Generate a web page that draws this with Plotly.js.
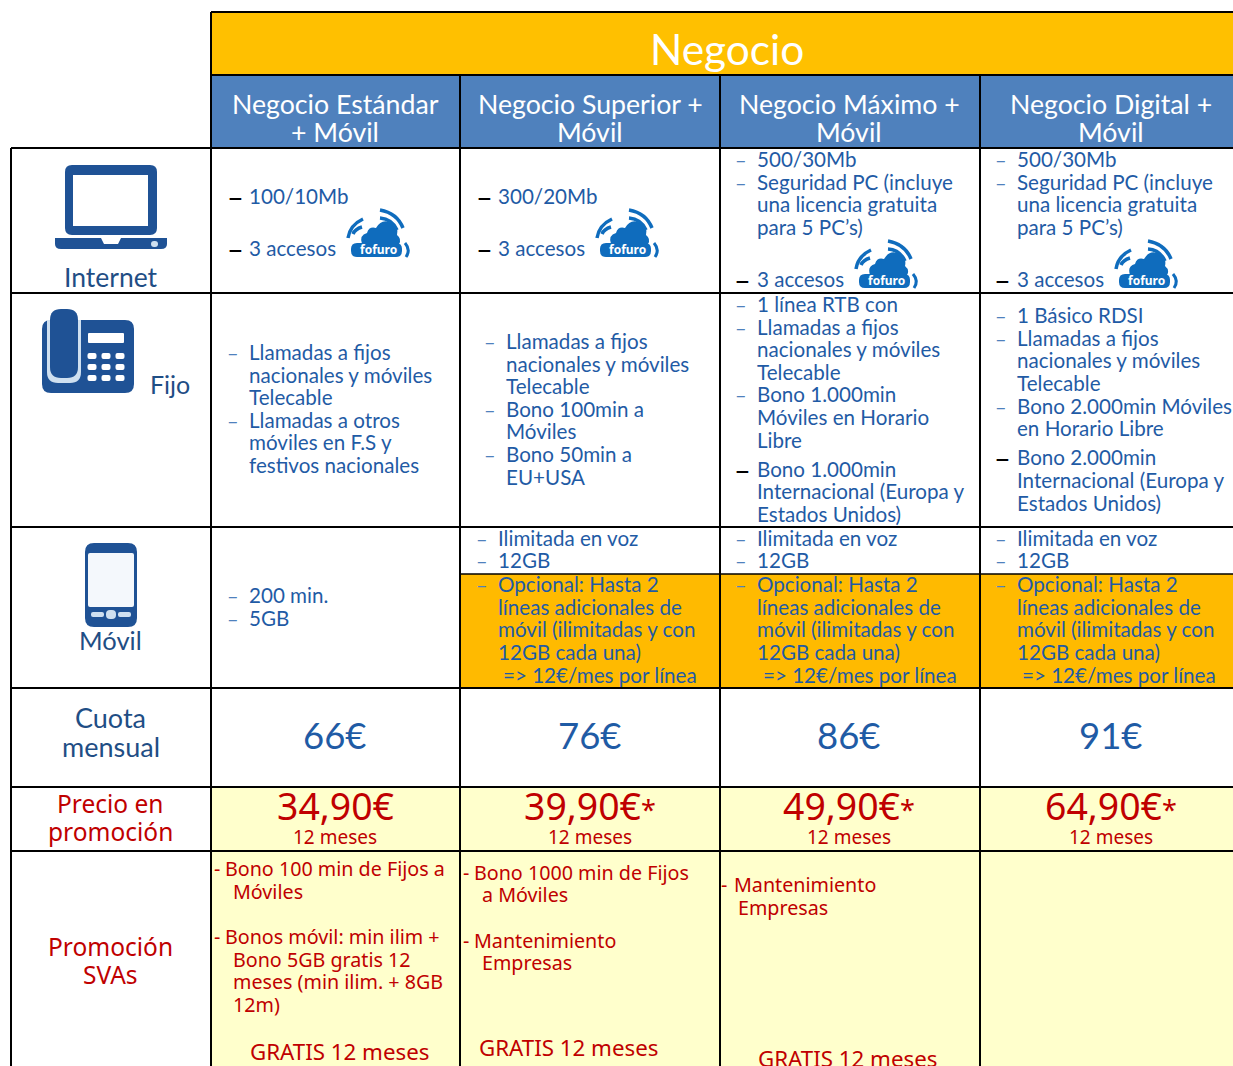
<!DOCTYPE html>
<html><head><meta charset="utf-8">
<script src="https://cdn.plot.ly/plotly-3.0.1.min.js"></script>
<style>html,body{margin:0;padding:0;background:#fff}#c{width:1233px;height:1066px}</style></head>
<body><div id="c"></div>
<script>
// ---- table content ----
const title = "Negocio";
const planHead1 = ["Negocio Estándar","Negocio Superior +","Negocio Máximo +","Negocio Digital +"];
const planHead2 = ["+ Móvil","Móvil","Móvil","Móvil"];
const rowInternet = "Internet", rowFijo = "Fijo", rowMovil = "Móvil";
const rowCuota = ["Cuota","mensual"], rowPrecio = ["Precio en","promoción"], rowPromo = ["Promoción","SVAs"];

const inetA = ["100/10Mb","3 accesos"];
const inetB = ["300/20Mb","3 accesos"];
const inetC = ["500/30Mb","Seguridad PC (incluye","una licencia gratuita","para 5 PC’s)","3 accesos"];
const fijoA = ["Llamadas a fijos","nacionales y móviles","Telecable","Llamadas a otros","móviles en F.S y","festivos nacionales"];
const fijoB = ["Llamadas a fijos","nacionales y móviles","Telecable","Bono 100min a","Móviles","Bono 50min a","EU+USA"];
const fijoC = ["1 línea RTB con","Llamadas a fijos","nacionales y móviles","Telecable","Bono 1.000min","Móviles en Horario","Libre","Bono 1.000min","Internacional (Europa y","Estados Unidos)"];
const fijoD = ["1 Básico RDSI","Llamadas a fijos","nacionales y móviles","Telecable","Bono 2.000min Móviles","en Horario Libre","Bono 2.000min","Internacional (Europa y","Estados Unidos)"];
const movilA = ["200 min.","5GB"];
const movilB = ["Ilimitada en voz","12GB","Opcional: Hasta 2","líneas adicionales de","móvil (ilimitadas y con","12GB cada una)"];
const movilExtra = "=> 12€/mes por línea";
const cuota = ["66€","76€","86€","91€"];
const precio = ["34,90€","39,90€*","49,90€*","64,90€*"];
const meses = "12 meses";
const promoA = ["Bono 100 min de Fijos a","Móviles","Bonos móvil: min ilim +","Bono 5GB gratis 12","meses (min ilim. + 8GB","12m)"];
const promoB = ["Bono 1000 min de Fijos","a Móviles","Mantenimiento","Empresas"];
const promoC = ["Mantenimiento","Empresas"];
const gratis = "GRATIS 12 meses";

// ---- styling / layout ----
const FONT = "Lato", FONT2 = "Noto Sans";
const GOLD="#FFC000", BLUE="#4F81BD", ORANGE="#FFBA00", PALE="#FFFFCC", BODY="#1F5BA5", NAVY="#1F4E85", RED="#C00000", ICON="#1F5295", CLOUD="#0F6CBD";
const colX=[211,460,720,980,1240], colC=[335,590,849,1111];
const shapes=[], ann=[];
function rect(x0,y0,x1,y1,fill,layer="below"){shapes.push({type:"rect",xref:"x",yref:"y",x0,y0,x1,y1,fillcolor:fill,line:{width:0},layer});}
function line(x0,y0,x1,y1,w=2,c="#000"){shapes.push({type:"line",xref:"x",yref:"y",x0,y0,x1,y1,line:{color:c,width:w}});}
function path(d,fill){shapes.push({type:"path",xref:"x",yref:"y",path:d,fillcolor:fill,line:{width:0}});}
function stroke(d,c,w){shapes.push({type:"path",xref:"x",yref:"y",path:d,fillcolor:"rgba(0,0,0,0)",line:{color:c,width:w}});}
function rr(x0,y0,x1,y1,r){return `M${x0+r},${y0}L${x1-r},${y0}Q${x1},${y0} ${x1},${y0+r}L${x1},${y1-r}Q${x1},${y1} ${x1-r},${y1}L${x0+r},${y1}Q${x0},${y1} ${x0},${y1-r}L${x0},${y0+r}Q${x0},${y0} ${x0+r},${y0}Z`;}
const YO=-0.8;
function txt(text,x,y,size,color,anchor="left",family=FONT){ann.push({text,x,y:y+YO,xref:"x",yref:"y",showarrow:false,xanchor:anchor,yanchor:"middle",borderpad:0,borderwidth:0,font:{family,size,color}});}
function dash(x,y,black){
  if(black) txt("–",x-2.5,y,29,"#000");
  else txt("–",x-1.5,y,20,"#4F81BD");
}
function put(lines,x,ys,size=20.6,color=BODY,family=FONT){lines.forEach((t,i)=>txt(t,x,ys[i],size,color,"left",family));}

// fills
rect(211,12,1240,75,GOLD);
rect(211,75,1240,148,BLUE);
[1,2,3].forEach(i=>rect(colX[i],574,colX[i+1],688,ORANGE));
rect(211,787,1240,1066,PALE);

// grid
line(211,12,1240,12);line(211,75,1240,75);
[148,293,527,688,787,851].forEach(y=>line(11,y,1240,y));
line(11,148,11,1066);line(211,12,211,1066);
[460,720,980].forEach(x=>line(x,75,x,1066));
line(460,574,1240,574,1.5);

// header
txt(title,727,49,42.4,"#fff","center");
colC.forEach((c,i)=>{txt(planHead1[i],c,105,26.7,"#fff","center");txt(planHead2[i],c,133,26.7,"#fff","center");});

// left column
txt(rowInternet,110.5,278,26.5,NAVY,"center");
txt(rowFijo,170,385,25,NAVY,"center");
txt(rowMovil,110.5,641,25.5,NAVY,"center");
txt(rowCuota[0],110.5,718,27,NAVY,"center");txt(rowCuota[1],110.5,747,27,NAVY,"center");
txt(rowPrecio[0],110.5,804,24.5,RED,"center",FONT2);txt(rowPrecio[1],110.5,832,24.5,RED,"center",FONT2);
txt(rowPromo[0],110.5,947,24.5,RED,"center",FONT2);txt(rowPromo[1],110.5,975,24.5,RED,"center",FONT2);

// internet row
[[229,249,inetA,197,249],[478,498,inetB,197,249]].forEach(([d,x,l,a,b])=>{dash(d,a,1);dash(d,b,1);put(l,x,[a,b]);});
[[736,757],[996,1017]].forEach(([d,x])=>{
  [160,183].forEach(y=>dash(d,y));dash(d,280,1);
  put(inetC,x,[160,183,205,228,280]);
});
// fijo row
const fa=[353,376,398,421,443,466]; put(fijoA,249,fa); [353,421].forEach(y=>dash(228,y));
const fb=[342,365,387,410,432,455,478]; put(fijoB,506,fb); [342,410,455].forEach(y=>dash(485,y));
const fc=[305,328,350,373,395,418,441,470,492,515]; put(fijoC,757,fc); [305,328,395].forEach(y=>dash(736,y)); dash(736,470,1);
const fd=[316,339,361,384,407,429,458,481,504]; put(fijoD,1017,fd); [316,339,407].forEach(y=>dash(996,y)); dash(996,458,1);
// movil row
put(movilA,249,[596,619]); [596,619].forEach(y=>dash(228,y));
const my=[539,561,585,608,630,653];
[[477,498,503],[736,757,763],[996,1017,1022]].forEach(([d,x,e])=>{
  put(movilB,x,my);[539,561,585].forEach(y=>dash(d,y));txt(movilExtra,e,676,20.6,BODY);
});
// prices
colC.forEach((c,i)=>{
  txt(cuota[i],c,736,36.5,BODY,"center");
  txt(precio[i].replace("*",'<span style="font-size:27px">*</span>'),c,806,37.4,RED,"center",FONT2);
  txt(meses,c,838,19,RED,"center",FONT2);
});
// promos
function promo(lines,dx,xs,ys,dashYs){lines.forEach((t,i)=>txt(t,xs[i],ys[i],19.7,RED,"left",FONT2));dashYs.forEach(y=>txt("-",dx,y,19.7,RED,"left",FONT2));}
promo(promoA,214,[225,233,225,233,233,233],[869,892,937,960,982,1005],[869,937]);
promo(promoB,463,[474,482,474,482],[873,895,941,963],[873,941]);
promo(promoC,721,[734,738],[885,908],[885]);
txt(gratis,339.5,1052,22.3,RED,"center",FONT2);
txt(gratis,568,1048,22.3,RED,"center",FONT2);
txt(gratis,847,1059,22.3,RED,"center",FONT2);

// ---- icons ----
// laptop
path(rr(65,165,157,235,7),ICON); rect(73,175,148,226,"#fff","above");
path("M55,238L101,238L104,244L118,244L121,238L167,238L167,244Q167,249 161,249L61,249Q55,249 55,244Z",ICON);
path(rr(151,241,158,247,3),"#cfe0f0");
// desk phone
path(rr(42,320,134,393,9),ICON);
path("M47,320L81,320L81,372Q81,383 70,383L58,383Q47,383 47,372Z","#cfe0f0");
path(rr(50,309,78,378,11),ICON);
path(rr(88,333,124,343,1),"#fff");
[92,106,120].forEach(x=>[356,367,378].forEach(y=>path(rr(x-4.5,y-3,x+4.5,y+3,2),"#fff")));
// mobile
path(rr(85,543,137,627,9),ICON);
path(rr(88,553,134,607,2),"#f4f8fc");
path(rr(91,612,104,617,2),"#cfe0f0");path(rr(118,612,131,617,2),"#cfe0f0");path(rr(106,610,116,619,4),"#cfe0f0");
// cloud logo
function cloud(o,t){
  const P=(s)=>s.replace(/(-?\d+(?:\.\d+)?),(-?\d+(?:\.\d+)?)/g,(m,a,b)=>(+a+o)+","+(+b+t));
  path(P("M15,35Q12,26 20,24Q22,17 29,19Q35,9 44,14Q52,17 50,26Q55,30 52,35Z"),CLOUD);
  stroke(P("M1,29Q3,16 16,10"),CLOUD,3.5); stroke(P("M6,25Q8,20 15,18"),CLOUD,3.5);
  stroke(P("M33,1Q50,4 56,19"),CLOUD,3.5); stroke(P("M33,9Q45,10 50,21"),CLOUD,3.5);
  path(rr(o+4,t+34,o+55,t+48,6),CLOUD);
  stroke(P("M58,34Q64,41 59,48"),CLOUD,3);
  txt("fofuro",o+31,t+41.5,12,"#fff","center",FONT2);
  ann[ann.length-1].font.weight=700;
}
cloud(347,209);cloud(596,209);cloud(855,240);cloud(1115,240);

Plotly.newPlot("c",[],{
  width:1233,height:1066,margin:{l:0,r:0,t:0,b:0},paper_bgcolor:"#fff",plot_bgcolor:"#fff",
  xaxis:{range:[0,1233],visible:false,fixedrange:true},
  yaxis:{range:[1066,0],visible:false,fixedrange:true},
  showlegend:false,shapes,annotations:ann
},{staticPlot:true,displayModeBar:false});
</script></body></html>
